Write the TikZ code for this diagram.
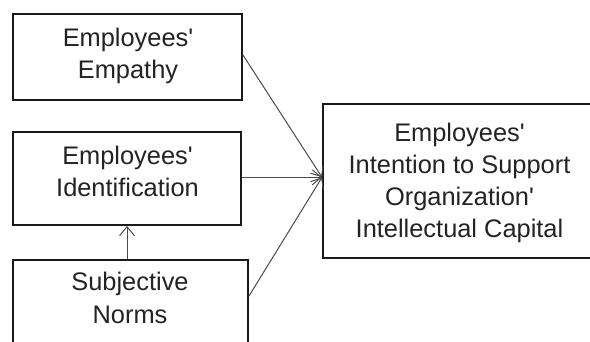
\documentclass[tikz,border=0pt]{standalone}
\usepackage{fontspec}
\setmainfont{Liberation Sans}
\usetikzlibrary{arrows.meta,calc}
\definecolor{txt}{RGB}{35,35,35}
\definecolor{boxline}{RGB}{25,25,25}
\definecolor{conn}{RGB}{75,75,75}
\newcommand{\apos}{\textquotesingle}
\tikzset{
  x=1pt,y=1pt,
  boxnode/.style={draw=boxline,line width=1.9pt,rectangle,inner sep=0pt},
  label text/.style={text=txt,align=center,inner sep=0pt,font=\fontsize{25.4}{32}\selectfont},
  link/.style={draw=conn,line width=1pt,-{Straight Barb[length=9pt,width=15pt,line width=1pt]}},
}
\begin{document}
\begin{tikzpicture}
\useasboundingbox (0,0) rectangle (590,341);
\fill[white] (0,0) rectangle (590,341);
\clip (0,0) rectangle (590,341);
% boxes
\node[boxnode,minimum width=229pt,minimum height=86pt] (b1) at (127.5,284) {};
\node[boxnode,minimum width=228pt,minimum height=93pt] (b2) at (127,162.5) {};
\node[boxnode,minimum width=235pt,minimum height=120pt] (b3) at (130.5,21) {};
\node[boxnode,minimum width=274pt,minimum height=154pt] (b4) at (460,160) {};
% texts
\node[label text] (t1) at (128,285.2) {Employees\apos\\Empathy};
\node[label text] (t2) at (127.5,169.2) {Employees\apos\\Identification};
\node[label text,font=\fontsize{25.4}{33}\selectfont] (t3) at (130,42.6) {Subjective\\Norms};
\node[label text] (t4) at (459.5,158.1) {Employees\apos\\Intention to Support\\Organization\apos\\Intellectual Capital};
% connectors
\coordinate (tip) at ($(b4.west)+(0,3.7)$);
\coordinate (s1) at ($(b1.east)+(0,2)$);
\coordinate (s3) at ($(b3.north east)+(0,-37)$);
\draw[link] (s1) -- (tip);
\draw[link] (b2.east |- tip) -- (tip);
\draw[link] (s3) -- (tip);
\draw[link] (b2.south |- b3.north) -- (b2.south);
\end{tikzpicture}
\end{document}
